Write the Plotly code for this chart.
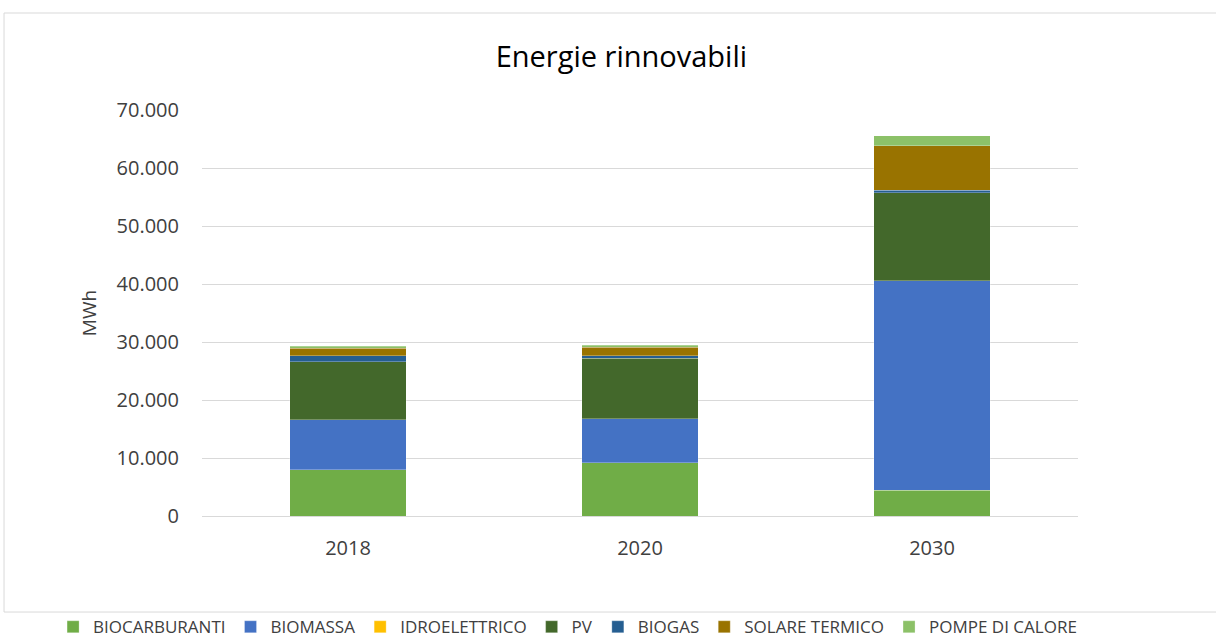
import plotly.graph_objects as go

# Years on the category axis
years = ["2018", "2020", "2030"]

# Renewable energy by source, MWh
biocarburanti = [8000, 9200, 4400]
biomassa = [8600, 7600, 36200]
idroelettrico = [0, 0, 0]
pv = [10000, 10400, 15100]
biogas = [1000, 400, 500]
solare_termico = [1300, 1500, 7600]
pompe_di_calore = [400, 300, 1800]

series = [
    ("BIOCARBURANTI", biocarburanti, "#70AD47"),
    ("BIOMASSA", biomassa, "#4472C4"),
    ("IDROELETTRICO", idroelettrico, "#FFC000"),
    ("PV", pv, "#43682B"),
    ("BIOGAS", biogas, "#255E91"),
    ("SOLARE TERMICO", solare_termico, "#997300"),
    ("POMPE DI CALORE", pompe_di_calore, "#8CC168"),
]

font_family = "Open Sans, Liberation Sans, sans-serif"

fig = go.Figure()
for name, values, color in series:
    fig.add_trace(go.Bar(
        name=name,
        x=years,
        y=values,
        marker=dict(color=color, line=dict(width=0.8, color="rgba(255,255,255,0.35)")),
    ))

fig.update_layout(
    barmode="stack",
    bargap=0.6,
    width=1216,
    height=640,
    margin=dict(l=202, r=138, t=110, b=124, autoexpand=False),
    paper_bgcolor="white",
    plot_bgcolor="white",
    separators=",.",
    font=dict(family=font_family, color="#404040", size=17),
    title=dict(
        text="Energie rinnovabili",
        x=0.511, xanchor="center", xref="container",
        y=0.911, yanchor="middle", yref="container",
        font=dict(family=font_family, size=29, color="#000000"),
    ),
    xaxis=dict(
        showgrid=False,
        showline=True,
        linecolor="#D9D9D9",
        linewidth=1,
        ticks="",
        tickfont=dict(size=20, color="#404040"),
        ticklabelstandoff=14,
    ),
    yaxis=dict(
        range=[0, 70000],
        dtick=10000,
        tickformat=",d",
        showgrid=True,
        gridcolor="#D9D9D9",
        gridwidth=1,
        zeroline=False,
        showline=False,
        ticks="",
        tickfont=dict(size=20, color="#404040"),
        ticklabelstandoff=22,
        title=dict(text="MWh", font=dict(size=19, color="#404040"), standoff=14),
    ),
    # Legend anchored in the left margin so it can span one row under the plot
    legend=dict(
        orientation="h",
        xref="paper", yref="paper",
        x=-0.17, xanchor="left",
        y=-0.274, yanchor="middle",
        bgcolor="rgba(0,0,0,0)",
        font=dict(size=17, color="#404040"),
        traceorder="normal",
        itemwidth=30,
        tracegroupgap=0,
    ),
    shapes=[
        dict(
            type="rect", xref="paper", yref="paper",
            x0=-0.226, x1=1.16, y0=-0.2365, y1=1.2389,
            line=dict(color="#D9D9D9", width=1),
            fillcolor="rgba(0,0,0,0)",
            layer="below",
        )
    ],
)

fig.write_html("out.html")
